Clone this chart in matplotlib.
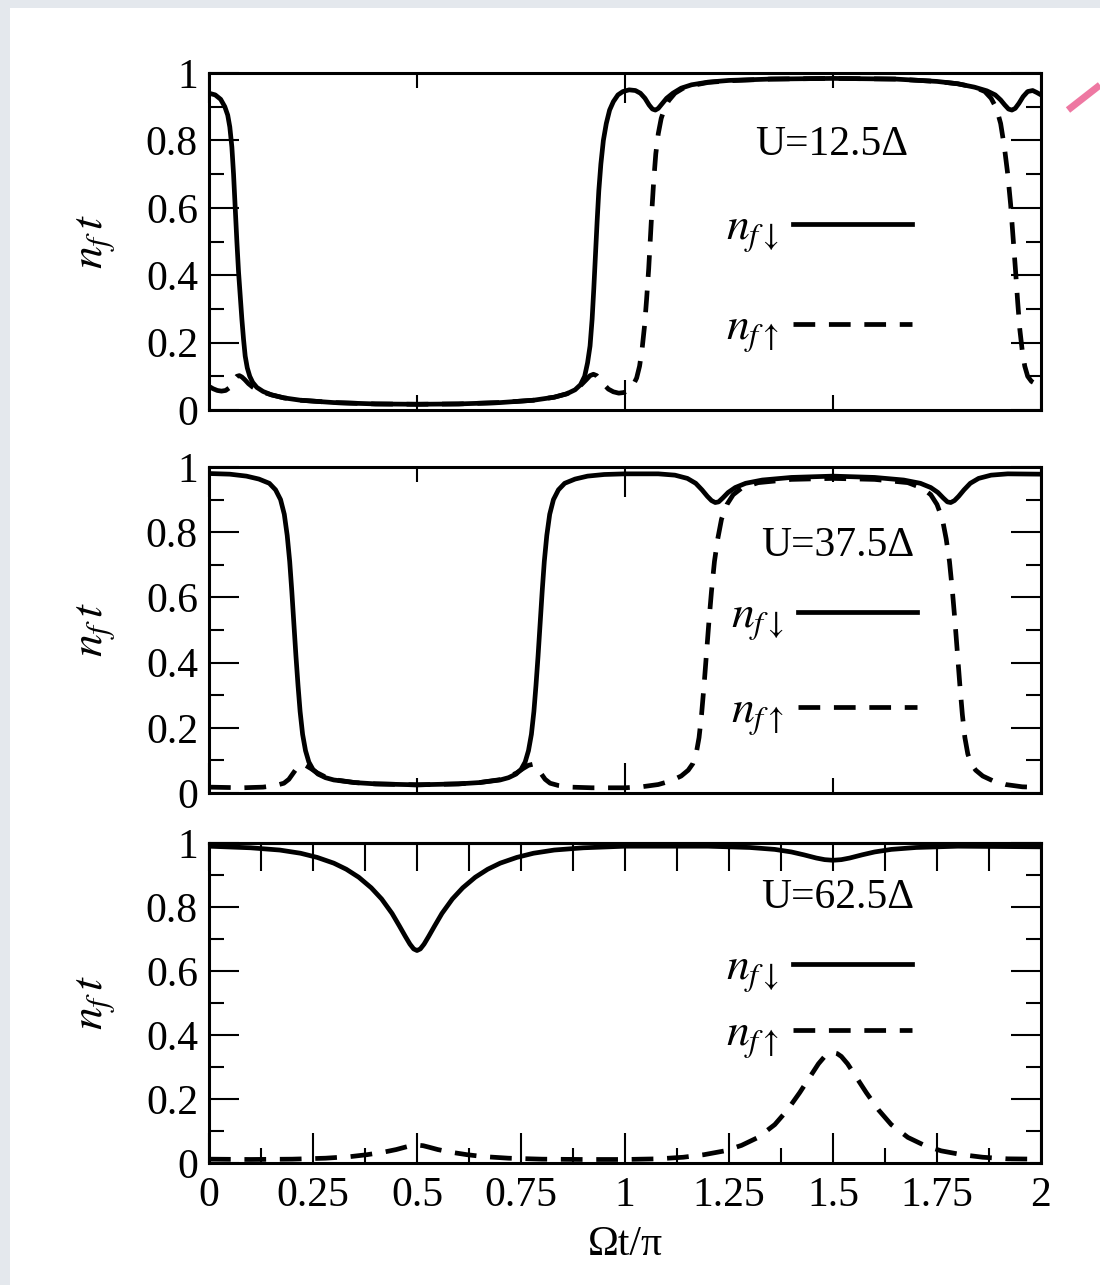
import matplotlib
matplotlib.use("Agg")
import matplotlib.pyplot as plt
from matplotlib.patches import Rectangle
from matplotlib.lines import Line2D
from matplotlib.ticker import FixedLocator, NullFormatter

plt.rcParams["font.family"] = ["Liberation Serif", "DejaVu Serif"]
plt.rcParams["mathtext.fontset"] = "stix"

# ---------------- data: occupation n_f(t) vs. Omega t / pi ----------------
# U = 12.5 Delta
x1_dn = [0.000, 0.015, 0.028, 0.038, 0.045, 0.050, 0.055, 0.059, 0.063, 0.067, 0.071,
         0.075, 0.079, 0.083, 0.087, 0.092, 0.098, 0.105, 0.115, 0.13, 0.15, 0.18, 0.22,
         0.30, 0.40, 0.50, 0.60, 0.70, 0.78, 0.83, 0.86, 0.88, 0.893, 0.903, 0.91,
         0.916, 0.921, 0.925, 0.929, 0.933, 0.937, 0.942, 0.948, 0.955, 0.963, 0.972,
         0.983, 0.995, 1.01, 1.025, 1.037, 1.048, 1.058, 1.066, 1.073, 1.08, 1.09,
         1.10, 1.115, 1.135, 1.16, 1.20, 1.25, 1.35, 1.50, 1.65, 1.75, 1.80, 1.84,
         1.87, 1.89, 1.903, 1.913, 1.922, 1.93, 1.938, 1.947, 1.957, 1.968, 1.98,
         1.99, 2.00]
y1_dn = [0.94, 0.935, 0.922, 0.90, 0.875, 0.84, 0.78, 0.70, 0.60, 0.50, 0.41,
         0.34, 0.27, 0.21, 0.16, 0.125, 0.10, 0.082, 0.067, 0.055, 0.045, 0.036, 0.029,
         0.022, 0.018, 0.017, 0.018, 0.022, 0.029, 0.038, 0.048, 0.06, 0.075, 0.10, 0.14,
         0.19, 0.27, 0.36, 0.46, 0.56, 0.65, 0.73, 0.80, 0.85, 0.89, 0.915,
         0.935, 0.945, 0.95, 0.948, 0.94, 0.925, 0.905, 0.893, 0.89, 0.895, 0.91,
         0.925, 0.94, 0.955, 0.965, 0.973, 0.978, 0.982, 0.984, 0.982, 0.975, 0.968, 0.958,
         0.947, 0.935, 0.92, 0.905, 0.893, 0.89, 0.895, 0.91, 0.93, 0.945, 0.948,
         0.942, 0.935]

x1_up = [0.00, 0.01, 0.02, 0.03, 0.04, 0.048, 0.055, 0.061, 0.067, 0.073, 0.079,
         0.086, 0.095, 0.105, 0.12, 0.15, 0.18, 0.22, 0.30, 0.40, 0.50, 0.60, 0.70,
         0.78, 0.83, 0.86, 0.88, 0.895, 0.907, 0.916, 0.924, 0.932, 0.94, 0.95, 0.96,
         0.972, 0.985, 0.998, 1.01, 1.02, 1.028, 1.035, 1.041, 1.047, 1.052, 1.057,
         1.061, 1.065, 1.069, 1.074, 1.08, 1.087, 1.095, 1.105, 1.12, 1.14, 1.17,
         1.20, 1.25, 1.35, 1.50, 1.65, 1.75, 1.80, 1.84, 1.865, 1.88, 1.893, 1.903,
         1.912, 1.92, 1.927, 1.933, 1.939, 1.944, 1.949, 1.955, 1.961, 1.968, 1.977,
         1.988, 2.00]
y1_up = [0.07, 0.063, 0.058, 0.056, 0.058, 0.065, 0.078, 0.092, 0.10, 0.102, 0.098,
         0.09, 0.078, 0.068, 0.057, 0.045, 0.036, 0.029, 0.022, 0.018, 0.017, 0.018, 0.022,
         0.029, 0.038, 0.048, 0.06, 0.075, 0.09, 0.102, 0.106, 0.102, 0.09, 0.075, 0.062,
         0.054, 0.05, 0.052, 0.06, 0.075, 0.095, 0.13, 0.18, 0.25, 0.33, 0.42,
         0.51, 0.60, 0.68, 0.76, 0.82, 0.865, 0.895, 0.918, 0.94, 0.955, 0.965,
         0.972, 0.977, 0.982, 0.984, 0.982, 0.975, 0.968, 0.958, 0.945, 0.925, 0.895, 0.85,
         0.78, 0.70, 0.61, 0.51, 0.41, 0.32, 0.24, 0.175, 0.13, 0.10, 0.085,
         0.077, 0.072]

# U = 37.5 Delta
x2_dn = [0.00, 0.05, 0.09, 0.12, 0.145, 0.16, 0.172, 0.181, 0.188, 0.194, 0.199,
         0.204, 0.209, 0.214, 0.219, 0.225, 0.232, 0.24, 0.25, 0.262, 0.28, 0.30, 0.35,
         0.40, 0.50, 0.60, 0.65, 0.70, 0.72, 0.738, 0.75, 0.76, 0.768, 0.775, 0.781,
         0.786, 0.791, 0.796, 0.801, 0.806, 0.812, 0.819, 0.828, 0.84, 0.855, 0.88,
         0.91, 0.95, 1.00, 1.08, 1.12, 1.15, 1.17, 1.185, 1.198, 1.208, 1.217, 1.225,
         1.235, 1.248, 1.265, 1.29, 1.33, 1.40, 1.50, 1.60, 1.67, 1.71, 1.735, 1.752,
         1.765, 1.775, 1.783, 1.792, 1.802, 1.815, 1.83, 1.85, 1.88, 1.92, 2.00]
y2_dn = [0.98, 0.978, 0.972, 0.963, 0.95, 0.93, 0.90, 0.855, 0.79, 0.71, 0.62,
         0.52, 0.42, 0.33, 0.25, 0.18, 0.13, 0.095, 0.072, 0.058, 0.047, 0.04, 0.032,
         0.028, 0.025, 0.028, 0.032, 0.04, 0.047, 0.058, 0.072, 0.095, 0.13, 0.18, 0.25,
         0.33, 0.42, 0.52, 0.62, 0.71, 0.79, 0.855, 0.90, 0.93, 0.95, 0.963,
         0.972, 0.977, 0.979, 0.979, 0.975, 0.965, 0.95, 0.93, 0.91, 0.897, 0.891, 0.893,
         0.905, 0.922, 0.937, 0.95, 0.96, 0.968, 0.972, 0.968, 0.96, 0.95, 0.937, 0.922,
         0.905, 0.893, 0.891, 0.897, 0.91, 0.93, 0.95, 0.965, 0.975, 0.979, 0.978]

x2_up = [0.00, 0.08, 0.13, 0.16, 0.18, 0.192, 0.202, 0.212, 0.222, 0.232, 0.245,
         0.26, 0.28, 0.30, 0.35, 0.40, 0.50, 0.60, 0.65, 0.70, 0.72, 0.74, 0.755,
         0.768, 0.778, 0.788, 0.798, 0.808, 0.82, 0.84, 0.87, 0.92, 1.00, 1.04, 1.08,
         1.11, 1.135, 1.152, 1.163, 1.171, 1.178, 1.184, 1.19, 1.196, 1.202, 1.208,
         1.215, 1.223, 1.232, 1.245, 1.26, 1.28, 1.32, 1.40, 1.50, 1.60, 1.68, 1.715,
         1.735, 1.75, 1.763, 1.772, 1.78, 1.787, 1.793, 1.799, 1.805, 1.811, 1.817,
         1.824, 1.832, 1.843, 1.86, 1.885, 1.915, 1.955, 2.00]
y2_up = [0.018, 0.016, 0.018, 0.023, 0.03, 0.042, 0.06, 0.078, 0.088, 0.085, 0.075,
         0.062, 0.049, 0.041, 0.032, 0.028, 0.025, 0.028, 0.032, 0.041, 0.049, 0.062, 0.075,
         0.085, 0.088, 0.078, 0.06, 0.042, 0.03, 0.023, 0.018, 0.016, 0.016, 0.019, 0.026,
         0.037, 0.052, 0.07, 0.09, 0.12, 0.17, 0.24, 0.33, 0.43, 0.53, 0.62,
         0.71, 0.78, 0.84, 0.885, 0.915, 0.935, 0.952, 0.962, 0.965, 0.962, 0.952, 0.935,
         0.915, 0.885, 0.84, 0.78, 0.71, 0.62, 0.53, 0.43, 0.33, 0.24, 0.17,
         0.12, 0.09, 0.07, 0.052, 0.037, 0.026, 0.019, 0.017]

# U = 62.5 Delta
x3_dn = [0.00, 0.10, 0.17, 0.22, 0.26, 0.30, 0.33, 0.36, 0.39, 0.415, 0.44,
         0.458, 0.472, 0.483, 0.492, 0.50, 0.508, 0.517, 0.528, 0.542, 0.56, 0.585, 0.61,
         0.64, 0.67, 0.70, 0.74, 0.78, 0.83, 0.90, 1.00, 1.20, 1.30, 1.36, 1.40,
         1.43, 1.46, 1.48, 1.50, 1.52, 1.54, 1.57, 1.60, 1.64, 1.70, 1.80, 2.00]
y3_dn = [0.99, 0.985, 0.978, 0.968, 0.955, 0.937, 0.918, 0.893, 0.86, 0.825, 0.78,
         0.74, 0.708, 0.684, 0.669, 0.664, 0.669, 0.684, 0.708, 0.74, 0.78, 0.825, 0.86,
         0.893, 0.918, 0.937, 0.955, 0.968, 0.978, 0.985, 0.99, 0.99, 0.986, 0.98, 0.972,
         0.963, 0.953, 0.948, 0.946, 0.948, 0.953, 0.963, 0.972, 0.98, 0.986, 0.99, 0.988]

x3_up = [0.00, 0.10, 0.20, 0.28, 0.34, 0.38, 0.42, 0.45, 0.47, 0.485, 0.50,
         0.515, 0.53, 0.55, 0.58, 0.62, 0.66, 0.72, 0.80, 0.90, 1.00, 1.08, 1.14,
         1.19, 1.24, 1.28, 1.32, 1.36, 1.39, 1.42, 1.445, 1.465, 1.48, 1.49, 1.50,
         1.51, 1.52, 1.535, 1.555, 1.58, 1.61, 1.64, 1.68, 1.72, 1.76, 1.81, 1.86,
         1.92, 2.00]
y3_up = [0.012, 0.011, 0.012, 0.015, 0.02, 0.026, 0.034, 0.042, 0.049, 0.054, 0.056,
         0.054, 0.049, 0.042, 0.034, 0.026, 0.02, 0.015, 0.012, 0.011, 0.011, 0.013, 0.018,
         0.026, 0.038, 0.055, 0.08, 0.12, 0.165, 0.22, 0.27, 0.31, 0.333, 0.342, 0.345,
         0.342, 0.333, 0.31, 0.27, 0.22, 0.165, 0.12, 0.08, 0.055, 0.038, 0.026, 0.018,
         0.013, 0.012]

panel_titles = ["U=12.5Δ", "U=37.5Δ", "U=62.5Δ"]
label_dn = r"$n_{f\downarrow}$"
label_up = r"$n_{f\uparrow}$"
ytick_vals = [0, 0.2, 0.4, 0.6, 0.8, 1]
ytick_labels = ["0", "0.2", "0.4", "0.6", "0.8", "1"]
xtick_vals = [0, 0.25, 0.5, 0.75, 1, 1.25, 1.5, 1.75, 2]
xtick_labels = ["0", "0.25", "0.5", "0.75", "1", "1.25", "1.5", "1.75", "2"]

series = [(x1_dn, y1_dn, x1_up, y1_up),
          (x2_dn, y2_dn, x2_up, y2_up),
          (x3_dn, y3_dn, x3_up, y3_up)]

# ---------------- figure ----------------
W, H = 1100, 1285
fig = plt.figure(figsize=(W / 100, H / 100), dpi=100, facecolor="#e4e8ed")
fig.add_artist(Rectangle((10 / W, 0), 1 - 10 / W, 1 - 8 / H, transform=fig.transFigure,
                         facecolor="white", edgecolor="none", zorder=0))
fig.add_artist(Line2D([1068 / W, 1.0], [1 - 110 / H, 1 - 85 / H], transform=fig.transFigure,
                      color="#ee78a2", lw=5, solid_capstyle="butt"))

left, width = 209 / W, 832 / W
boxes = [(73, 410), (467, 793), (843, 1163)]

title_pos = [(0.749, 0.786), (0.756, 0.758), (0.756, 0.828)]
legend_anchor = [(0.845, 0.383), (0.851, 0.387), (0.845, 0.495)]
legend_spacing = [1.14, 1.05, 0.40]

TL = 30
FS = 30
LW = 3.4
MAJ, MIN = 21.5, 10.8

for i, (top, bot) in enumerate(boxes):
    ax = fig.add_axes([left, 1 - bot / H, width, (bot - top) / H])
    ax.set_facecolor("none")
    xd, yd, xu, yu = series[i]
    l_up, = ax.plot(xu, yu, color="black", lw=LW, dashes=(4.6, 2.9), label=label_up)
    l_dn, = ax.plot(xd, yd, color="black", lw=LW, label=label_dn)
    ax.set_xlim(0, 2)
    ax.set_ylim(0, 1)

    for s in ax.spines.values():
        s.set_linewidth(2.2)

    ax.yaxis.set_major_locator(FixedLocator(ytick_vals))
    ax.set_yticklabels(ytick_labels)
    ax.yaxis.set_minor_locator(FixedLocator([0.1, 0.3, 0.5, 0.7, 0.9]))
    ax.tick_params(axis="y", which="both", direction="in", left=True, right=True, width=1.5)
    ax.tick_params(axis="y", which="major", length=MAJ, labelsize=TL, pad=8)
    ax.tick_params(axis="y", which="minor", length=MIN)

    if i < 2:
        ax.xaxis.set_major_locator(FixedLocator([0, 1, 2]))
        ax.xaxis.set_minor_locator(FixedLocator([0.5, 1.5]))
        ax.tick_params(axis="x", which="both", direction="in", top=True, bottom=True,
                       labelbottom=False, width=1.5)
        ax.tick_params(axis="x", which="major", length=MAJ)
        ax.tick_params(axis="x", which="minor", length=MIN)
    else:
        ax.xaxis.set_major_locator(FixedLocator(xtick_vals))
        ax.set_xticklabels(xtick_labels)
        ax.xaxis.set_minor_locator(FixedLocator([0.125 + 0.25 * k for k in range(8)]))
        ax.tick_params(axis="x", which="both", direction="in", top=False, bottom=True, width=1.5)
        ax.tick_params(axis="x", which="major", length=MAJ, labelsize=TL, pad=10)
        ax.tick_params(axis="x", which="minor", length=MIN)
        sec = ax.secondary_xaxis("top")
        sec.xaxis.set_major_locator(FixedLocator([0.125 * k for k in range(17)]))
        sec.xaxis.set_major_formatter(NullFormatter())
        sec.tick_params(direction="in", length=20, width=1.5)
        sec.spines["top"].set_linewidth(2.2)
        ax.set_xlabel("Ωt/π", fontsize=FS, labelpad=7)

    ax.set_ylabel(r"$n_f\,t$", fontsize=33, labelpad=20)

    tx, ty = title_pos[i]
    ax.text(tx, ty, panel_titles[i], transform=ax.transAxes, ha="center", va="center",
            fontsize=FS)
    ax.legend(handles=[l_dn, l_up], loc="center right", bbox_to_anchor=legend_anchor[i],
              markerfirst=False, frameon=False, fontsize=33, handlelength=2.6,
              handletextpad=0.3, labelspacing=legend_spacing[i], borderpad=0,
              borderaxespad=0)

fig.savefig("out.png", dpi=100, facecolor=fig.get_facecolor())
